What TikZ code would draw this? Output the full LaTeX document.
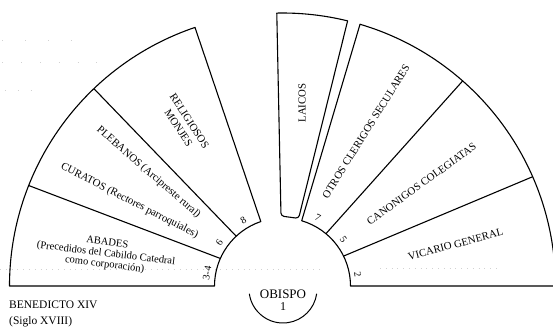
\documentclass[tikz,border=0pt]{standalone}
\usepackage{fontspec}
\setmainfont{Liberation Serif}
\begin{document}
\begin{tikzpicture}[x=1pt,y=1pt,
  line/.style={line width=1.1pt, line join=round},
  lbl/.style={font=\fontsize{10.8}{13}\selectfont, inner sep=0pt, align=center},
  num/.style={font=\fontsize{10}{10}\selectfont, inner sep=0pt},
  noise/.style={gray!35, line width=0.8pt, dash pattern=on 0.8pt off 5pt}]
\useasboundingbox (-282.5,-46) rectangle (270.5,286);
\clip (-282.5,-46) rectangle (270.5,286);
% faint scan dots
\draw[noise] (-282.5,17) -- (37.5,17);
\draw[noise] (97.5,18) -- (217.5,18);
\draw[noise, dash pattern=on 0.8pt off 22pt] (-280,246) -- (-192.5,246);
\draw[noise, dash pattern=on 0.8pt off 18pt] (-280,224) -- (-172.5,224);
\draw[noise, dash pattern=on 0.8pt off 12pt] (-277.5,196) -- (-242.5,196);
% left block
\draw[line] (180:68) -- (180:273) arc[start angle=180,end angle=108.7,radius=273]
  -- (108.6:68) arc[start angle=108.6,end angle=180,radius=68] -- cycle;
\draw[line] (156.1:68) -- (158.4:273);
\draw[line] (132.9:68) -- (133.7:273);
% LAICOS box
\draw[line] (91.2:273) [rounded corners=3pt] -- (-1.5,70) -- (76.6:69.5) [sharp corners]
  -- (76.2:273) arc[start angle=76.2,end angle=91.2,radius=273] -- cycle;
% right block
\draw[line] (73.6:68) -- (73.5:273) arc[start angle=73.5,end angle=0,radius=273]
  -- (0:68) arc[start angle=0,end angle=73.6,radius=68] -- cycle;
\draw[line] (50.3:68) -- (48.7:273);
\draw[line] (26.1:68) -- (23.6:273);
% labels
\node[lbl, rotate=-57] (rel) at (-98.5,161.5) {RELIGIOSOS\\MONJES};
\node[lbl, rotate=-41] (pleb) at (-134,113.5) {PLEBANOS (Arcipreste rural)};
\node[lbl, rotate=-27] (cur) at (-153,85) {CURATOS (Rectores parroquiales)};
\node[lbl, rotate=-7, font=\fontsize{10.5}{11}\selectfont] (abad) at (-176.5,32)
  {ABADES\\(Precedidos del Cabildo Catedral\\como corporación)};
\node[lbl, rotate=90] (laic) at (19.5,183) {LAICOS};
\node[lbl, rotate=58] (otros) at (83.5,154.5) {OTROS CLERIGOS SECULARES};
\node[lbl, rotate=36] (cano) at (139,102) {CANONIGOS COLEGIATAS};
\node[lbl, rotate=15] (vic) at (173,41.5) {VICARIO GENERAL};
% numbers
\node[num, rotate=30.7] (n8) at (120.7:76.5) {8};
\node[num, rotate=55.7] (n6) at (145.7:76.5) {6};
\node[num, rotate=80.2] (n34) at (170.2:76.5) {3-4};
\node[num, rotate=-27.6] (n7) at (62.4:76.5) {7};
\node[num, rotate=-52.8] (n5) at (37.2:76.5) {5};
\node[num, rotate=-81.6] (n2) at (8.4:76) {2};
% obispo
\coordinate (oc) at (0.5,-3);
\draw[line, line width=1pt] ([shift={(188:34)}]oc) arc[start angle=188,end angle=352,radius=34];
\node[font=\fontsize{13}{13}\selectfont, inner sep=0pt] (obispo) at (0.5,-8) {OBISPO};
\node[font=\fontsize{12}{12}\selectfont, inner sep=0pt] (uno) at (0.5,-21) {1};
% caption
\node[anchor=west, font=\fontsize{11.5}{12}\selectfont, inner sep=0pt] (bened) at (-273.5,-19) {BENEDICTO XIV};
\node[anchor=west, font=\fontsize{11.5}{12}\selectfont, inner sep=0pt] (siglo) at (-273.5,-36) {(Siglo XVIII)};
\end{tikzpicture}
\end{document}
